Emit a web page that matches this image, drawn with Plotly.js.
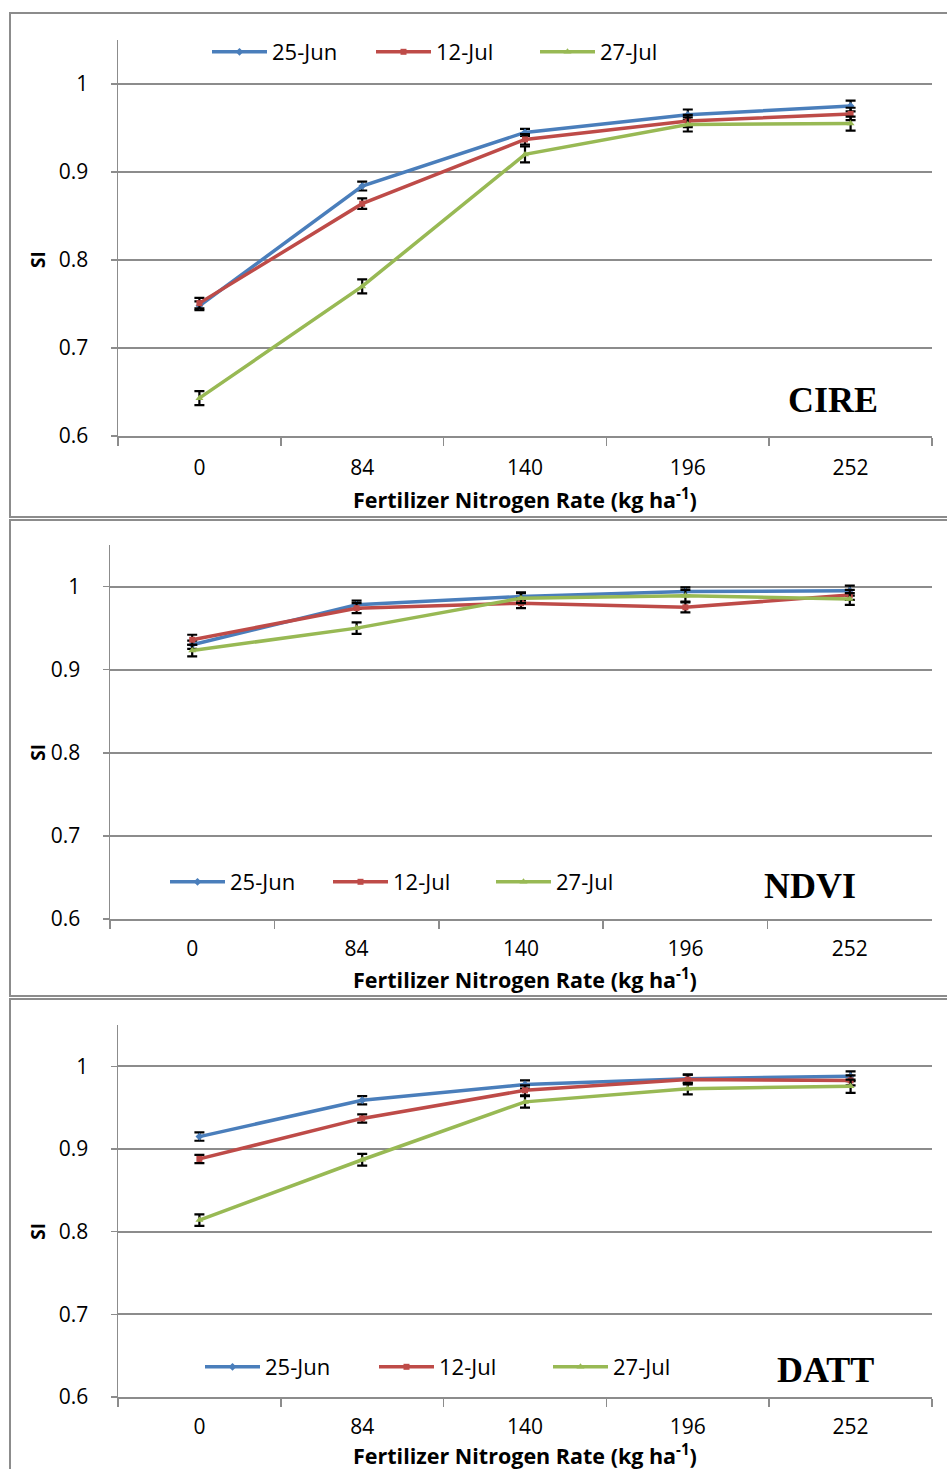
<!DOCTYPE html>
<html>
<head>
<meta charset="utf-8">
<script src="https://cdn.plot.ly/plotly-3.0.1.min.js"></script>
<style>
html,body{margin:0;padding:0;background:#fff;}
#chart{width:947px;height:1469px;}
</style>
</head>
<body>
<div id="chart"></div>
<script>
// Categories (fertilizer N rate, kg/ha)
const categories = ["0", "84", "140", "196", "252"];
const seriesNames = ["25-Jun", "12-Jul", "27-Jul"];

// CIRE
const cire_jun25 = [0.748, 0.884, 0.945, 0.965, 0.975];
const cire_jul12 = [0.751, 0.864, 0.937, 0.958, 0.966];
const cire_jul27 = [0.643, 0.770, 0.920, 0.954, 0.955];
const cire_err_jun25 = [0.005, 0.005, 0.004, 0.006, 0.006];
const cire_err_jul12 = [0.006, 0.006, 0.006, 0.007, 0.007];
const cire_err_jul27 = [0.008, 0.008, 0.009, 0.008, 0.008];

// NDVI
const ndvi_jun25 = [0.930, 0.978, 0.988, 0.994, 0.995];
const ndvi_jul12 = [0.936, 0.974, 0.980, 0.975, 0.990];
const ndvi_jul27 = [0.923, 0.950, 0.986, 0.989, 0.985];
const ndvi_err_jun25 = [0.005, 0.005, 0.005, 0.005, 0.006];
const ndvi_err_jul12 = [0.006, 0.006, 0.006, 0.006, 0.006];
const ndvi_err_jul27 = [0.007, 0.007, 0.006, 0.007, 0.007];

// DATT
const datt_jun25 = [0.915, 0.959, 0.978, 0.985, 0.988];
const datt_jul12 = [0.888, 0.937, 0.971, 0.984, 0.983];
const datt_jul27 = [0.814, 0.887, 0.957, 0.973, 0.976];
const datt_err_jun25 = [0.005, 0.005, 0.005, 0.005, 0.006];
const datt_err_jul12 = [0.005, 0.005, 0.006, 0.006, 0.006];
const datt_err_jul27 = [0.007, 0.007, 0.007, 0.007, 0.008];

const yTicks = [0.6, 0.7, 0.8, 0.9, 1];
const yTickText = ["0.6", "0.7", "0.8", "0.9", "1"];
const panelLabels = ["CIRE", "NDVI", "DATT"];
const xTitle = "Fertilizer Nitrogen Rate (kg ha<sup>-1</sup>)";
const yTitle = "SI";

const colors = ["#4a7ebb", "#be4b48", "#98b954"];
const symbols = ["diamond", "square", "triangle-up"];
const msizes = [6, 6, 7];

const W = 947, H = 1469;
const py = v => 1 - v / H;
const px = v => v / W;

const panels = [
  {data: [cire_jun25, cire_jul12, cire_jul27], err: [cire_err_jun25, cire_err_jul12, cire_err_jul27],
   xa: "x", ya: "y", left: 118, top: 40, bottom: 436, legend: "legend",
   legX: 207, legY: 52, entry: 164, labX: 833, labY: 400, titleOff: 62, standoff: 12, box: [13, 517]},
  {data: [ndvi_jun25, ndvi_jul12, ndvi_jul27], err: [ndvi_err_jun25, ndvi_err_jul12, ndvi_err_jul27],
   xa: "x2", ya: "y2", left: 110, top: 545, bottom: 919, legend: "legend2",
   legX: 165, legY: 882, entry: 163, labX: 810, labY: 886, titleOff: 59, standoff: 10, box: [520, 996]},
  {data: [datt_jun25, datt_jul12, datt_jul27], err: [datt_err_jun25, datt_err_jul12, datt_err_jul27],
   xa: "x3", ya: "y3", left: 118, top: 1025, bottom: 1397, legend: "legend3",
   legX: 200, legY: 1367, entry: 174, labX: 825, labY: 1370, titleOff: 57, standoff: 10, box: [999, 1480]}
];

const traces = [];
const layout = {
  width: W, height: H,
  margin: {l: 0, r: 0, t: 0, b: 0},
  paper_bgcolor: "#ffffff", plot_bgcolor: "#ffffff",
  font: {family: "Open Sans, Liberation Sans, sans-serif", size: 20, color: "#000"},
  showlegend: true,
  annotations: [], shapes: []
};

panels.forEach((p, i) => {
  const n = i === 0 ? "" : String(i + 1);
  const yr = [0.6, 1.05];
  const y08 = p.bottom - (p.bottom - p.top) * (0.8 - yr[0]) / (yr[1] - yr[0]);
  p.data.forEach((vals, s) => {
    traces.push({
      type: "scatter", mode: "lines+markers",
      x: categories, y: vals, name: seriesNames[s],
      xaxis: p.xa, yaxis: p.ya, legend: p.legend,
      line: {color: colors[s], width: 3.5},
      marker: {symbol: symbols[s], size: msizes[s], color: colors[s]},
      error_y: {type: "data", array: p.err[s], visible: true, color: "#000", thickness: 2.2, width: 5}
    });
  });
  layout["xaxis" + n] = {
    type: "category", domain: [px(p.left), px(932)], anchor: "y" + n,
    range: [-0.5, 4.5], tickson: "boundaries", ticks: "outside", ticklen: 8, tickwidth: 1.5,
    tickcolor: "#8c8c8c", showline: true, linecolor: "#8c8c8c", linewidth: 2,
    showgrid: false, zeroline: false, ticklabelstandoff: p.standoff,
    tickfont: {size: 21, color: "#000"}, fixedrange: true
  };
  layout["yaxis" + n] = {
    domain: [py(p.bottom), py(p.top)], anchor: "x" + n,
    range: yr, tickvals: yTicks, ticktext: yTickText,
    ticks: "outside", ticklen: 6, tickwidth: 1.5, tickcolor: "#8c8c8c",
    showline: true, linecolor: "#8c8c8c", linewidth: 1.5,
    showgrid: true, gridcolor: "#8c8c8c", gridwidth: 2, zeroline: false,
    ticklabelstandoff: 18, tickfont: {size: 21, color: "#000"}, fixedrange: true
  };
  layout[p.legend] = {
    orientation: "h", x: px(p.legX), y: py(p.legY), xanchor: "left", yanchor: "middle",
    xref: "paper", yref: "paper", bgcolor: "rgba(0,0,0,0)",
    itemwidth: 55,
    entrywidth: p.entry - 70, entrywidthmode: "pixels",
    font: {size: 22, color: "#000"}
  };
  layout.annotations.push({
    text: "<b>" + panelLabels[i] + "</b>", xref: "paper", yref: "paper",
    x: px(p.labX), y: py(p.labY), xanchor: "center", yanchor: "middle", showarrow: false,
    font: {family: "Liberation Serif, Times New Roman, serif", size: 36, color: "#000"}
  });
  layout.annotations.push({
    text: "<b>" + xTitle + "</b>", xref: "paper", yref: "paper",
    x: px(525), y: py(p.bottom + p.titleOff), xanchor: "center", yanchor: "middle", showarrow: false,
    font: {size: 21.5, color: "#000"}
  });
  layout.annotations.push({
    text: "<b>" + yTitle + "</b>", xref: "paper", yref: "paper",
    x: px(38), y: py(y08), xanchor: "center", yanchor: "middle",
    textangle: -90, showarrow: false, font: {size: 19, color: "#000"}
  });
  layout.shapes.push({
    type: "rect", xref: "paper", yref: "paper",
    x0: px(10), x1: px(960), y0: py(p.box[1]), y1: py(p.box[0]),
    line: {color: "#8c8c8c", width: 2}, fillcolor: "rgba(0,0,0,0)", layer: "below"
  });
});

Plotly.newPlot("chart", traces, layout, {displayModeBar: false, staticPlot: true});
</script>
</body>
</html>
